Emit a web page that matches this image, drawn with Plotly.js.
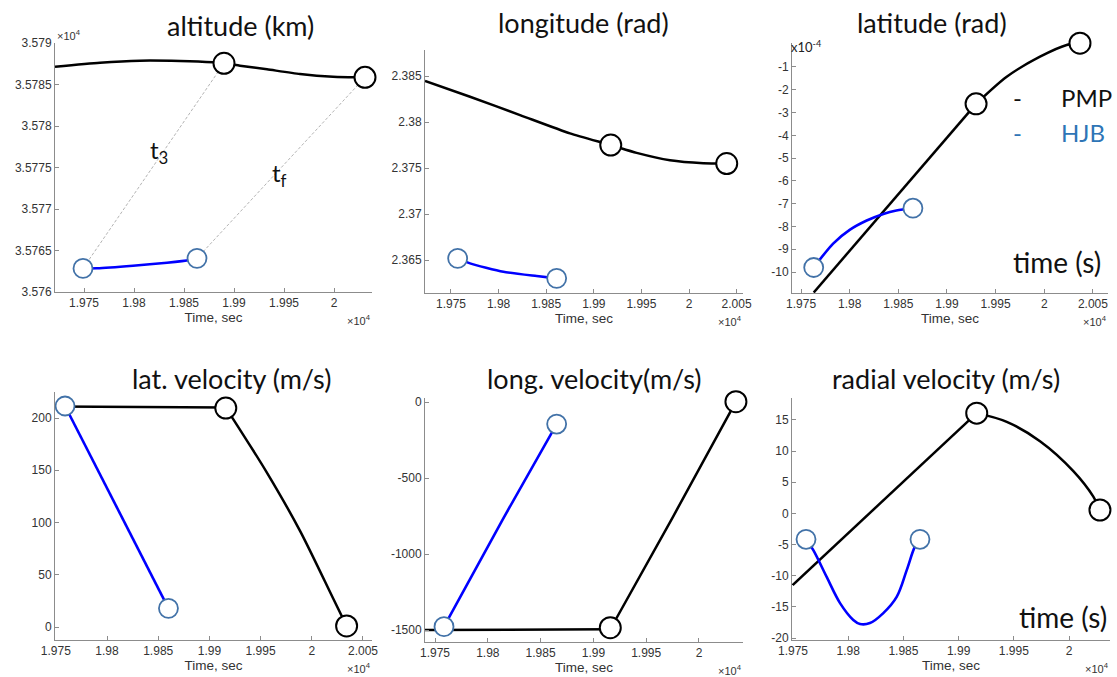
<!DOCTYPE html>
<html>
<head>
<meta charset="utf-8">
<script src="https://cdn.plot.ly/plotly-3.0.1.min.js"></script>
<style>html,body{margin:0;padding:0;background:#fff;}#chart{width:1117px;height:677px;}</style>
</head>
<body>
<div id="chart"></div>
<script>
// ---------- tick labels (time axis shown in units of 1e4 s) ----------
const timeTickVals = [19750, 19800, 19850, 19900, 19950, 20000, 20050];
const timeTickText = ['1.975', '1.98', '1.985', '1.99', '1.995', '2', '2.005'];
const altTickVals = [35760, 35765, 35770, 35775, 35780, 35785, 35790];
const altTickText = ['3.576', '3.5765', '3.577', '3.5775', '3.578', '3.5785', '3.579'];
const lonTickVals = [2.365, 2.37, 2.375, 2.38, 2.385];
const lonTickText = ['2.365', '2.37', '2.375', '2.38', '2.385'];
const latTickVals = [-10, -9, -8, -7, -6, -5, -4, -3, -2, -1];
const latTickText = ['-10', '-9', '-8', '-7', '-6', '-5', '-4', '-3', '-2', '-1'];
const latvTickVals = [0, 50, 100, 150, 200];
const lonvTickVals = [-1500, -1000, -500, 0];
const radTickVals = [-20, -15, -10, -5, 0, 5, 10, 15];

// ---------- altitude (km) ----------
const altPmpT = [19721, 19766, 19806, 19846, 19879, 19890, 19906, 19933, 19966, 19999, 20031];
const altPmpV = [35787.14, 35787.63, 35787.87, 35787.83, 35787.67, 35787.55, 35787.27, 35786.83, 35786.27, 35785.94, 35785.86];
const altHjbT = [19749, 19763, 19799, 19833, 19856, 19863];
const altHjbV = [35762.84, 35762.86, 35763.17, 35763.53, 35763.86, 35764.06];
const altPmpMarkT = [19890, 20031];
const altPmpMarkV = [35787.55, 35785.86];
const altHjbMarkT = [19749, 19863];
const altHjbMarkV = [35762.84, 35764.06];

// ---------- longitude (rad) ----------
const lonPmpT = [19722.7, 19770, 19822.5, 19875, 19917.8, 19945, 19980, 20015, 20039.6];
const lonPmpV = [2.38446, 2.38275, 2.38076, 2.37877, 2.37750, 2.37665, 2.37585, 2.37553, 2.37549];
const lonHjbT = [19757, 19770, 19805, 19840, 19861];
const lonHjbV = [2.36518, 2.36464, 2.36373, 2.36326, 2.36301];
const lonPmpMarkT = [19917.8, 20039.6];
const lonPmpMarkV = [2.37750, 2.37549];
const lonHjbMarkT = [19757, 19861];
const lonHjbMarkV = [2.36518, 2.36301];

// ---------- latitude (x1e-4 rad) ----------
const latPmpT = [19763, 19929.9, 19961.4, 19995.6, 20023, 20036.7];
const latPmpV = [-10.9, -2.62, -1.43, -0.55, -0.035, 0.04];
const latHjbT = [19763, 19783, 19800, 19817.5, 19834.6, 19848, 19865];
const latHjbV = [-9.8, -8.75, -8.15, -7.74, -7.45, -7.30, -7.2];
const latPmpMarkT = [19929.9, 20036.7];
const latPmpMarkV = [-2.62, 0.04];
const latHjbMarkT = [19763, 19865];
const latHjbMarkV = [-9.8, -7.2];

// ---------- lat. velocity (m/s) ----------
const latvPmpT = [19749, 19916, 19956, 19988.5, 20021, 20034];
const latvPmpV = [211, 210, 148, 92, 27, 1];
const latvHjbT = [19759, 19860];
const latvHjbV = [211.5, 17.9];
const latvPmpMarkT = [19916, 20034];
const latvPmpMarkV = [209.5, 1];
const latvHjbMarkT = [19759, 19860];
const latvHjbMarkV = [211.5, 17.9];

// ---------- long. velocity (m/s) ----------
const lonvPmpT = [19740, 19916, 19975, 20035];
const lonvPmpV = [-1500, -1495, -760, 2];
const lonvHjbT = [19758.5, 19814.7, 19865.2];
const lonvHjbV = [-1478, -765, -145];
const lonvPmpMarkT = [19916, 20035];
const lonvPmpMarkV = [-1485, 2];
const lonvHjbMarkT = [19758.5, 19865.2];
const lonvHjbMarkV = [-1478, -145];

// ---------- radial velocity (m/s) ----------
const radPmpT = [19749.7, 19916.4, 19943.6, 19973.7, 20003.9, 20022, 20028];
const radPmpV = [-11.5, 16.1, 14.7, 11.6, 6.8, 2.7, 0.55];
const radHjbT = [19761.8, 19768.4, 19780.5, 19792.6, 19804.6, 19810.7, 19819.7, 19831.8, 19843.9, 19853, 19860.5, 19865];
const radHjbV = [-4.15, -5.9, -10.2, -14.4, -17.1, -17.75, -17.6, -16.0, -13.4, -9.1, -5.3, -4.15];
const radPmpMarkT = [19916.4, 20028];
const radPmpMarkV = [16.1, 0.55];
const radHjbMarkT = [19761.8, 19865];
const radHjbMarkV = [-4.15, -4.15];

// ---------- styling / layout helpers ----------
const W = 1117, H = 677;
const px = v => v / W;
const py = v => 1 - v / H;
const BLACK = '#000000', BLUE = '#0000ff', HJB_EDGE = '#4272a8', AXIS = '#8c8c8c';
const TXT = '#333333';

// corner: index in the PMP series where a straight part ends and a curved part starts (-1 = curved throughout)
const panels = [
  {pmpT: altPmpT, pmpV: altPmpV, hjbT: altHjbT, hjbV: altHjbV, pmT: altPmpMarkT, pmV: altPmpMarkV, hmT: altHjbMarkT, hmV: altHjbMarkV,
   box: [55, 372, 43, 292], xr: [19721, 20038], yr: [35760, 35790], tv: altTickVals, tt: altTickText, corner: -1, hjbShape: 'spline', sm: 0.6},
  {pmpT: lonPmpT, pmpV: lonPmpV, hjbT: lonHjbT, hjbV: lonHjbV, pmT: lonPmpMarkT, pmV: lonPmpMarkV, hmT: lonHjbMarkT, hmV: lonHjbMarkV,
   box: [425, 743, 50, 293], xr: [19722.7, 20056.7], yr: [2.36142, 2.38783], tv: lonTickVals, tt: lonTickText, corner: -1, hjbShape: 'spline', sm: 0.6},
  {pmpT: latPmpT, pmpV: latPmpV, hjbT: latHjbT, hjbV: latHjbV, pmT: latPmpMarkT, pmV: latPmpMarkV, hmT: latHjbMarkT, hmV: latHjbMarkV,
   box: [792, 1108, 43, 293], xr: [19740.7, 20065.5], yr: [-10.92, 0.05], tv: latTickVals, tt: latTickText, corner: 1, hjbShape: 'spline', sm: 0.8},
  {pmpT: latvPmpT, pmpV: latvPmpV, hjbT: latvHjbT, hjbV: latvHjbV, pmT: latvPmpMarkT, pmV: latvPmpMarkV, hmT: latvHjbMarkT, hmV: latvHjbMarkV,
   box: [55, 372, 392, 640], xr: [19749.2, 20058.8], yr: [-12.44, 224.9], tv: latvTickVals, tt: latvTickVals.map(String), corner: 1, hjbShape: 'linear', sm: 0.8},
  {pmpT: lonvPmpT, pmpV: lonvPmpV, hjbT: lonvHjbT, hjbV: lonvHjbV, pmT: lonvPmpMarkT, pmV: lonvPmpMarkV, hmT: lonvHjbMarkT, hmV: lonvHjbMarkV,
   box: [425, 743, 398, 642], xr: [19740.5, 20041.7], yr: [-1578.9, 26.3], tv: lonvTickVals, tt: lonvTickVals.map(String), corner: 1, hjbShape: 'spline', sm: 0.8},
  {pmpT: radPmpT, pmpV: radPmpV, hjbT: radHjbT, hjbV: radHjbV, pmT: radPmpMarkT, pmV: radPmpMarkV, hmT: radHjbMarkT, hmV: radHjbMarkV,
   box: [792, 1110, 398, 640], xr: [19749.1, 20037.1], yr: [-20.32, 18.53], tv: radTickVals, tt: radTickVals.map(String), corner: 1, hjbShape: 'spline', sm: 1.0}
];

const data = [];
const layout = {
  width: W, height: H,
  margin: {l: 0, r: 0, t: 0, b: 0},
  paper_bgcolor: '#ffffff', plot_bgcolor: '#ffffff',
  showlegend: false,
  font: {family: 'Liberation Sans, Arial, sans-serif', color: TXT, size: 12},
  annotations: [], shapes: []
};

panels.forEach((p, i) => {
  const n = i + 1;
  const xa = 'x' + (n === 1 ? '' : n), ya = 'y' + (n === 1 ? '' : n);
  const xk = 'xaxis' + (n === 1 ? '' : n), yk = 'yaxis' + (n === 1 ? '' : n);
  if (i === 0) {
    for (let k = 0; k < 2; k++) {
      data.push({x: [p.pmT[k], p.hmT[k]], y: [p.pmV[k], p.hmV[k]], xaxis: xa, yaxis: ya, type: 'scatter', mode: 'lines',
        line: {color: '#b4b4b4', width: 1, dash: '3px,2px'}, hoverinfo: 'skip'});
    }
  }
  const pmpLine = {color: BLACK, width: 2.5};
  if (p.corner < 0) {
    data.push({x: p.pmpT, y: p.pmpV, xaxis: xa, yaxis: ya, type: 'scatter', mode: 'lines', name: 'PMP',
      line: Object.assign({shape: 'spline', smoothing: p.sm}, pmpLine)});
  } else {
    data.push({x: p.pmpT.slice(0, p.corner + 1), y: p.pmpV.slice(0, p.corner + 1), xaxis: xa, yaxis: ya, type: 'scatter', mode: 'lines', name: 'PMP',
      line: Object.assign({shape: 'linear'}, pmpLine)});
    data.push({x: p.pmpT.slice(p.corner), y: p.pmpV.slice(p.corner), xaxis: xa, yaxis: ya, type: 'scatter', mode: 'lines', name: 'PMP',
      line: Object.assign({shape: 'spline', smoothing: p.sm}, pmpLine)});
  }
  data.push({x: p.hjbT, y: p.hjbV, xaxis: xa, yaxis: ya, type: 'scatter', mode: 'lines', name: 'HJB',
    line: {color: BLUE, width: 2.6, shape: p.hjbShape, smoothing: p.sm}});
  data.push({x: p.hmT, y: p.hmV, xaxis: xa, yaxis: ya, type: 'scatter', mode: 'markers', cliponaxis: false,
    marker: {symbol: 'circle', size: 19, color: '#ffffff', line: {color: HJB_EDGE, width: 1.8}}});
  data.push({x: p.pmT, y: p.pmV, xaxis: xa, yaxis: ya, type: 'scatter', mode: 'markers', cliponaxis: false,
    marker: {symbol: 'circle', size: 21, color: '#ffffff', line: {color: BLACK, width: 2}}});

  const [l, r, t, b] = p.box;
  layout[xk] = {
    domain: [px(l), px(r)], range: p.xr, anchor: ya,
    showline: true, linecolor: AXIS, linewidth: 1, mirror: false,
    ticks: 'inside', ticklen: 4, tickcolor: AXIS, tickwidth: 1,
    tickmode: 'array', tickvals: timeTickVals, ticktext: timeTickText,
    tickfont: {size: 12, color: TXT}, showgrid: false, zeroline: false,
    title: {text: 'Time, sec', font: {size: 13.5, color: TXT}, standoff: 3}
  };
  layout[yk] = {
    domain: [py(b), py(t)], range: p.yr, anchor: xa,
    showline: true, linecolor: AXIS, linewidth: 1, mirror: false,
    ticks: 'inside', ticklen: 4, tickcolor: AXIS, tickwidth: 1,
    tickmode: 'array', tickvals: p.tv, ticktext: p.tt,
    tickfont: {size: 12, color: TXT}, showgrid: false, zeroline: false
  };
  layout.annotations.push({xref: 'paper', yref: 'paper', x: px(r + 1), y: py(b + 28), xanchor: 'right', yanchor: 'middle',
    text: '\u00d710<sup>4</sup>', showarrow: false, font: {size: 11, color: TXT}});
});

const TITLE_FONT = {family: 'Lato, Open Sans, sans-serif', size: 27, color: '#111111'};
const titles = [
  ['altitude (km)', 240, 25], ['longitude (rad)', 583, 22], ['latitude (rad)', 932, 22],
  ['lat. velocity (m/s)', 231, 378], ['long. velocity(m/s)', 594, 378], ['radial velocity (m/s)', 946, 378]
];
titles.forEach(([txt, x, y]) => layout.annotations.push({xref: 'paper', yref: 'paper', x: px(x), y: py(y),
  xanchor: 'center', yanchor: 'middle', text: txt, showarrow: false, font: TITLE_FONT}));

const LEG = {family: 'Lato, Open Sans, sans-serif', size: 24, color: '#111111'};
const LEGB = {family: 'Lato, Open Sans, sans-serif', size: 24, color: '#2e75b6'};
const BIG = {family: 'Lato, Open Sans, sans-serif', size: 28, color: '#111111'};
const TS = {family: 'Lato, Open Sans, sans-serif', size: 24, color: '#111111'};
const extra = [
  ['-', 1017, 97, LEG, 'center'], ['PMP', 1059, 97, LEG, 'left'],
  ['-', 1017, 132, LEGB, 'center'], ['HJB', 1059, 132, LEGB, 'left'],
  ['time (s)', 1103, 262, BIG, 'right'], ['time (s)', 1109, 617, BIG, 'right'],
  ['t<sub>3</sub>', 159, 152, TS, 'center'], ['t<sub>f</sub>', 279, 174, TS, 'center']
];
extra.forEach(([txt, x, y, f, xa]) => layout.annotations.push({xref: 'paper', yref: 'paper', x: px(x), y: py(y),
  xanchor: xa, yanchor: 'middle', text: txt, showarrow: false, font: f}));

layout.annotations.push({xref: 'paper', yref: 'paper', x: px(55), y: py(35), xanchor: 'left', yanchor: 'middle',
  text: '\u00d710<sup>4</sup>', showarrow: false, font: {size: 11, color: TXT}});
layout.annotations.push({xref: 'paper', yref: 'paper', x: px(789), y: py(47), xanchor: 'left', yanchor: 'middle',
  text: 'x10<sup>-4</sup>', showarrow: false, font: {family: 'Lato, sans-serif', size: 13, color: '#222222'}});

Plotly.newPlot('chart', data, layout, {displayModeBar: false, staticPlot: true});
</script>
</body>
</html>
